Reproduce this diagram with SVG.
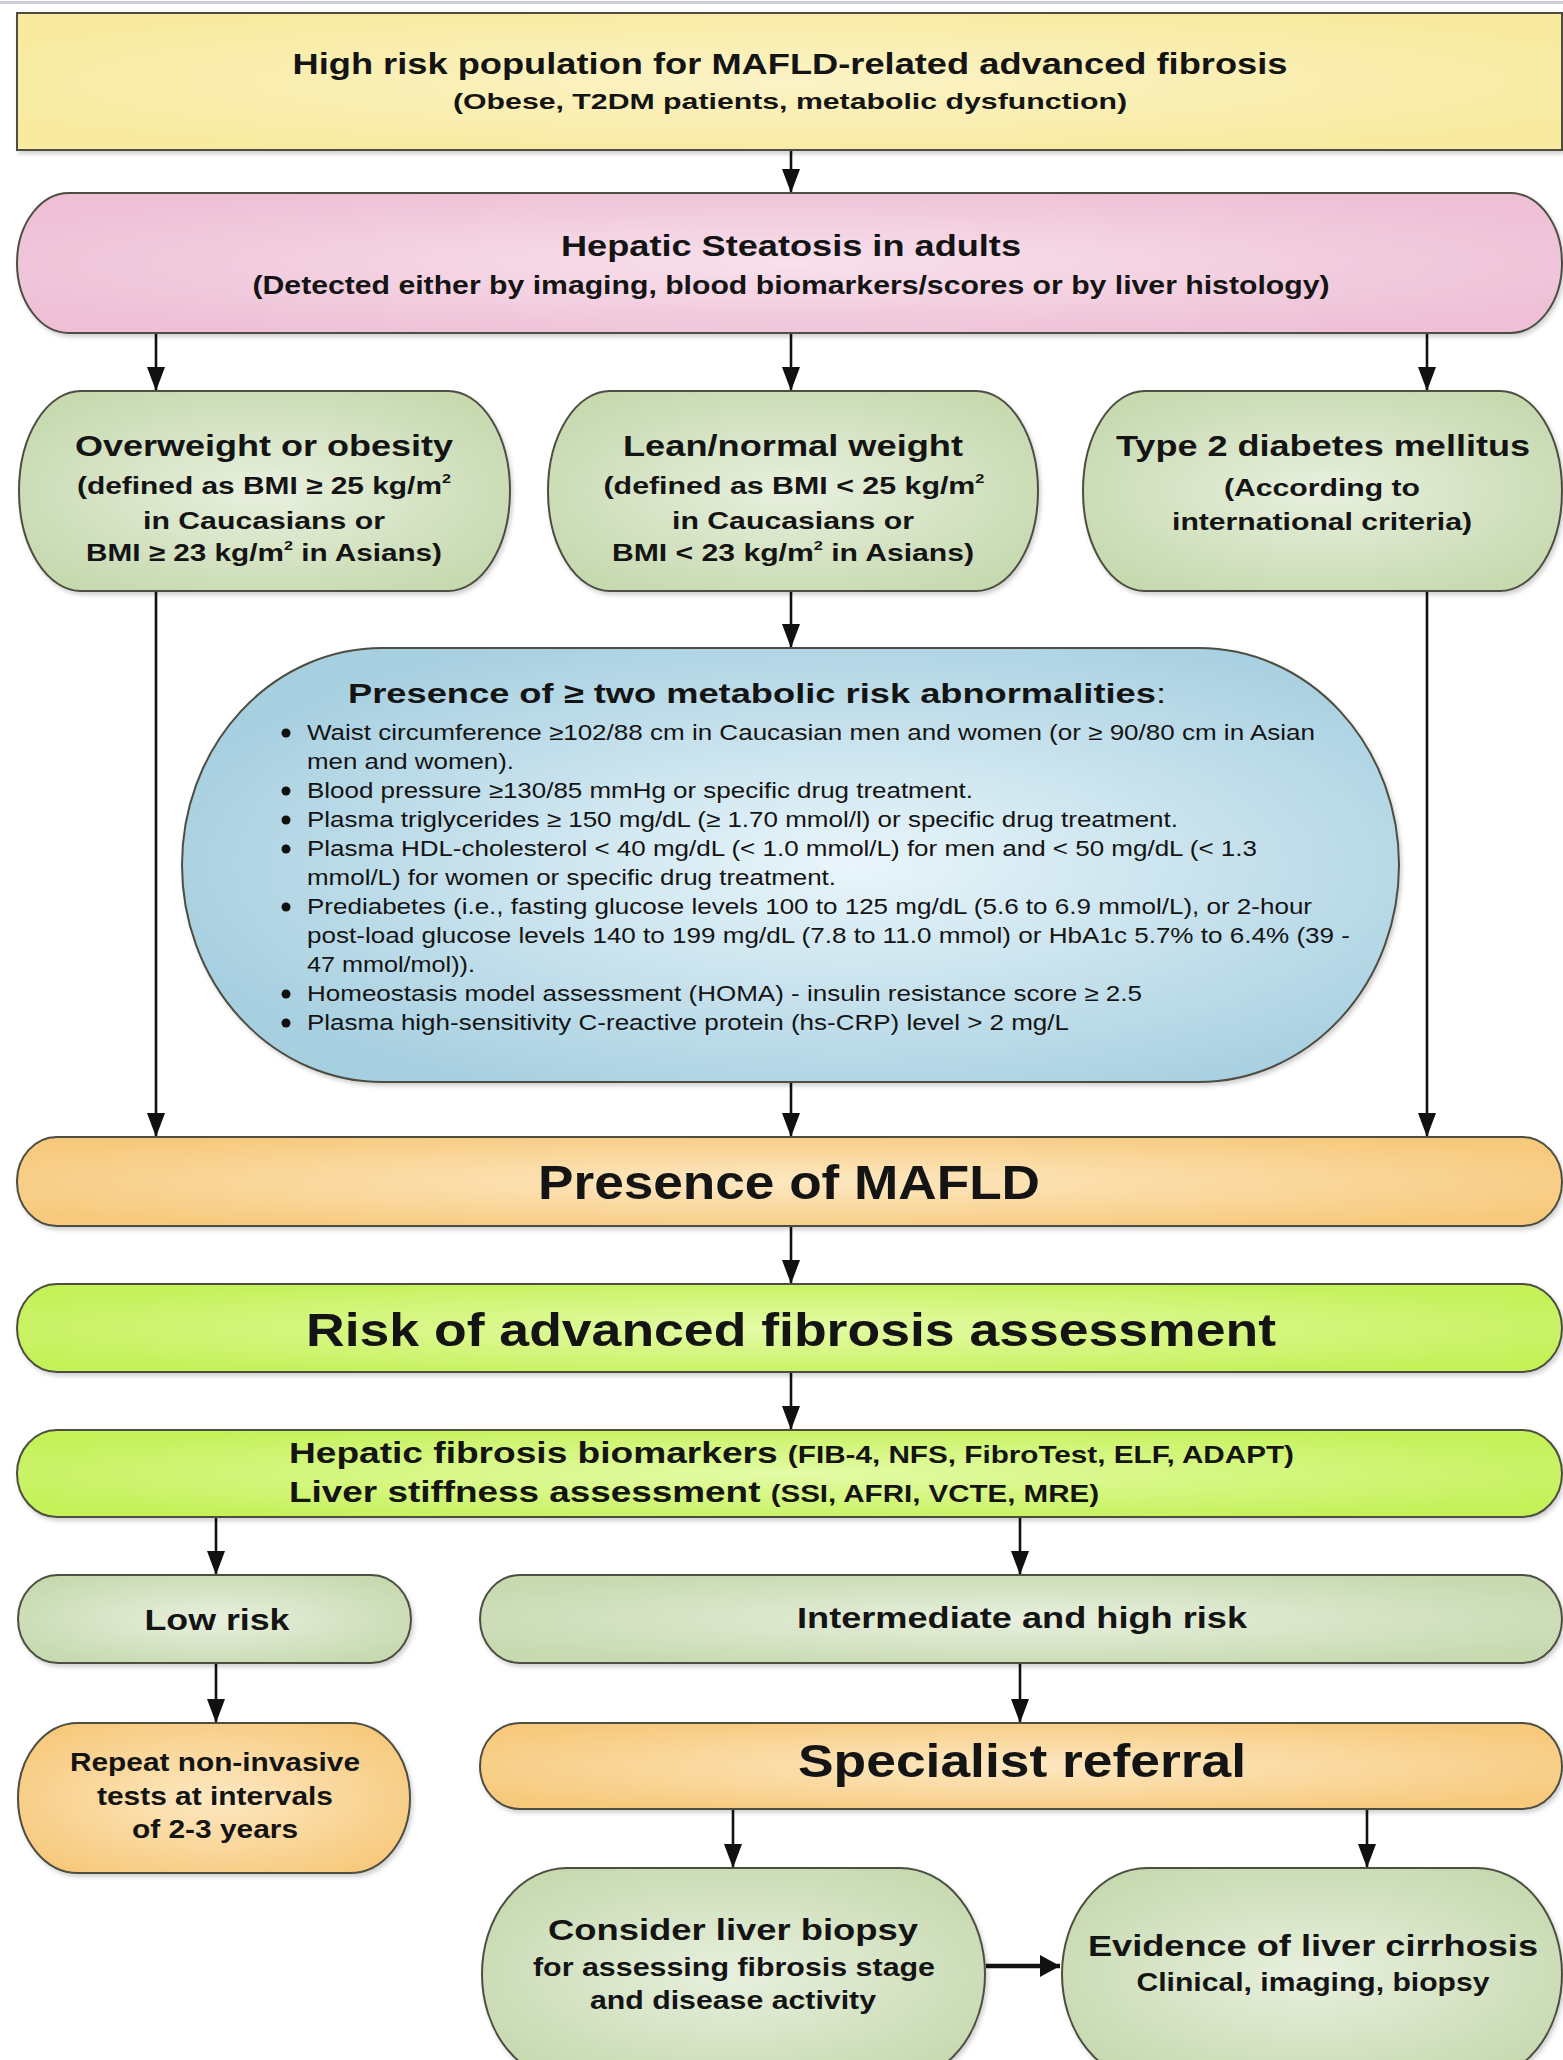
<svg xmlns="http://www.w3.org/2000/svg" width="1563" height="2060" viewBox="0 0 1563 2060">
<style>
text{font-family:"Liberation Sans",Arial,Helvetica,sans-serif;fill:#141414;}
.b{font-weight:bold;}
.node{stroke:#4d4d42;stroke-width:2;}
.conn line{stroke:#111;stroke-width:2.6;}
</style>
<defs>
<radialGradient id="gY" cx="50%" cy="50%" r="60%"><stop offset="0" stop-color="#fbf3c6"/><stop offset="1" stop-color="#f8ea9e"/></radialGradient>
<radialGradient id="gP" cx="50%" cy="50%" r="60%"><stop offset="0" stop-color="#f8e0ec"/><stop offset="1" stop-color="#eebfd5"/></radialGradient>
<radialGradient id="gG" cx="50%" cy="50%" r="60%"><stop offset="0" stop-color="#e8f0de"/><stop offset="1" stop-color="#c6d9af"/></radialGradient>
<radialGradient id="gB" cx="55%" cy="50%" r="60%"><stop offset="0" stop-color="#e9f5fa"/><stop offset="1" stop-color="#a6cfe0"/></radialGradient>
<radialGradient id="gO" cx="50%" cy="50%" r="60%"><stop offset="0" stop-color="#fde8c2"/><stop offset="1" stop-color="#f7c97c"/></radialGradient>
<radialGradient id="gL" cx="50%" cy="50%" r="60%"><stop offset="0" stop-color="#e4fba6"/><stop offset="1" stop-color="#c4f158"/></radialGradient>
<filter id="sh" x="-5%" y="-10%" width="110%" height="130%"><feDropShadow dx="2" dy="3" stdDeviation="2" flood-color="#000" flood-opacity="0.18"/></filter>
<marker id="ah" viewBox="0 0 24 18" refX="24" refY="9" markerWidth="24" markerHeight="18" markerUnits="userSpaceOnUse" orient="auto"><path d="M0,0 L24,9 L0,18 z" fill="#111"/></marker>
<marker id="ah2" viewBox="0 0 20 22" refX="20" refY="11" markerWidth="20" markerHeight="22" markerUnits="userSpaceOnUse" orient="auto"><path d="M0,0 L20,11 L0,22 z" fill="#111"/></marker>
</defs>
<rect x="0" y="0" width="1563" height="2060" fill="#fff"/>
<rect x="0" y="1" width="1563" height="3" fill="#cdd0dc"/>

<g id="connectors" class="conn">
<line x1="791" y1="150" x2="791" y2="193" marker-end="url(#ah)"/>
<line x1="156" y1="333" x2="156" y2="391" marker-end="url(#ah)"/>
<line x1="791" y1="333" x2="791" y2="391" marker-end="url(#ah)"/>
<line x1="1427" y1="333" x2="1427" y2="391" marker-end="url(#ah)"/>
<line x1="156" y1="591" x2="156" y2="1137" marker-end="url(#ah)"/>
<line x1="1427" y1="591" x2="1427" y2="1137" marker-end="url(#ah)"/>
<line x1="791" y1="591" x2="791" y2="648" marker-end="url(#ah)"/>
<line x1="791" y1="1082" x2="791" y2="1137" marker-end="url(#ah)"/>
<line x1="791" y1="1226" x2="791" y2="1284" marker-end="url(#ah)"/>
<line x1="791" y1="1372" x2="791" y2="1430" marker-end="url(#ah)"/>
<line x1="216" y1="1517" x2="216" y2="1575" marker-end="url(#ah)"/>
<line x1="1020" y1="1517" x2="1020" y2="1575" marker-end="url(#ah)"/>
<line x1="216" y1="1663" x2="216" y2="1723" marker-end="url(#ah)"/>
<line x1="1020" y1="1663" x2="1020" y2="1723" marker-end="url(#ah)"/>
<line x1="733" y1="1809" x2="733" y2="1868" marker-end="url(#ah)"/>
<line x1="1367" y1="1809" x2="1367" y2="1868" marker-end="url(#ah)"/>
<line x1="986" y1="1966" x2="1060" y2="1966" style="stroke-width:4.5" marker-end="url(#ah2)"/>
</g>

<g id="n-highrisk">
<rect class="node" x="17" y="13" width="1545" height="137" fill="url(#gY)" filter="url(#sh)"/>
<text class="b" x="790" y="74" font-size="29" text-anchor="middle" textLength="995" lengthAdjust="spacingAndGlyphs">High risk population for MAFLD-related advanced fibrosis</text>
<text class="b" x="790" y="109" font-size="22" text-anchor="middle" textLength="674" lengthAdjust="spacingAndGlyphs">(Obese, T2DM patients, metabolic dysfunction)</text>
</g>

<g id="n-steatosis">
<rect class="node" x="17" y="193" width="1545" height="140" rx="52" ry="70" fill="url(#gP)" filter="url(#sh)"/>
<text class="b" x="791" y="256" font-size="30" text-anchor="middle" textLength="460" lengthAdjust="spacingAndGlyphs">Hepatic Steatosis in adults</text>
<text class="b" x="791" y="294" font-size="25" text-anchor="middle" textLength="1077" lengthAdjust="spacingAndGlyphs">(Detected either by imaging, blood biomarkers/scores or by liver histology)</text>
</g>

<g id="n-overweight">
<rect class="node" x="19" y="391" width="491" height="200" rx="62" ry="100" fill="url(#gG)" filter="url(#sh)"/>
<text class="b" x="264" y="456" font-size="29" text-anchor="middle" textLength="378" lengthAdjust="spacingAndGlyphs">Overweight or obesity</text>
<text class="b" x="264" y="494" font-size="24" text-anchor="middle" textLength="374" lengthAdjust="spacingAndGlyphs">(defined as BMI ≥ 25 kg/m<tspan font-size="13" dy="-11">2</tspan></text>
<text class="b" x="264" y="529" font-size="24" text-anchor="middle" textLength="242" lengthAdjust="spacingAndGlyphs">in Caucasians or</text>
<text class="b" x="264" y="561" font-size="24" text-anchor="middle" textLength="356" lengthAdjust="spacingAndGlyphs">BMI ≥ 23 kg/m<tspan font-size="13" dy="-11">2</tspan><tspan dy="11"> in Asians)</tspan></text>
</g>

<g id="n-lean">
<rect class="node" x="548" y="391" width="490" height="200" rx="62" ry="100" fill="url(#gG)" filter="url(#sh)"/>
<text class="b" x="793" y="456" font-size="29" text-anchor="middle" textLength="340" lengthAdjust="spacingAndGlyphs">Lean/normal weight</text>
<text class="b" x="794" y="494" font-size="24" text-anchor="middle" textLength="381" lengthAdjust="spacingAndGlyphs">(defined as BMI &lt; 25 kg/m<tspan font-size="13" dy="-11">2</tspan></text>
<text class="b" x="793" y="529" font-size="24" text-anchor="middle" textLength="242" lengthAdjust="spacingAndGlyphs">in Caucasians or</text>
<text class="b" x="793" y="561" font-size="24" text-anchor="middle" textLength="362" lengthAdjust="spacingAndGlyphs">BMI &lt; 23 kg/m<tspan font-size="13" dy="-11">2</tspan><tspan dy="11"> in Asians)</tspan></text>
</g>

<g id="n-t2dm">
<rect class="node" x="1083" y="391" width="479" height="200" rx="62" ry="100" fill="url(#gG)" filter="url(#sh)"/>
<text class="b" x="1323" y="456" font-size="29" text-anchor="middle" textLength="414" lengthAdjust="spacingAndGlyphs">Type 2 diabetes mellitus</text>
<text class="b" x="1322" y="496" font-size="24" text-anchor="middle" textLength="196" lengthAdjust="spacingAndGlyphs">(According to</text>
<text class="b" x="1322" y="530" font-size="24" text-anchor="middle" textLength="300" lengthAdjust="spacingAndGlyphs">international criteria)</text>
</g>

<g id="n-metabolic">
<rect class="node" x="182" y="648" width="1217" height="434" rx="200" ry="217" fill="url(#gB)" filter="url(#sh)"/>
<text x="348" y="703" font-size="28" textLength="818" lengthAdjust="spacingAndGlyphs"><tspan class="b">Presence of ≥ two metabolic risk abnormalities</tspan>:</text>
<g fill="#111">
<circle cx="286" cy="733" r="4.5"/><circle cx="286" cy="791" r="4.5"/><circle cx="286" cy="820" r="4.5"/><circle cx="286" cy="849" r="4.5"/><circle cx="286" cy="907" r="4.5"/><circle cx="286" cy="994" r="4.5"/><circle cx="286" cy="1023" r="4.5"/>
</g>
<g font-size="22">
<text x="307" y="740" textLength="1008" lengthAdjust="spacingAndGlyphs">Waist circumference ≥102/88 cm in Caucasian men and women (or ≥ 90/80 cm in Asian</text>
<text x="307" y="769" textLength="207" lengthAdjust="spacingAndGlyphs">men and women).</text>
<text x="307" y="798" textLength="666" lengthAdjust="spacingAndGlyphs">Blood pressure ≥130/85 mmHg or specific drug treatment.</text>
<text x="307" y="827" textLength="871" lengthAdjust="spacingAndGlyphs">Plasma triglycerides ≥ 150 mg/dL (≥ 1.70 mmol/l) or specific drug treatment.</text>
<text x="307" y="856" textLength="950" lengthAdjust="spacingAndGlyphs">Plasma HDL-cholesterol &lt; 40 mg/dL (&lt; 1.0 mmol/L) for men and &lt; 50 mg/dL (&lt; 1.3</text>
<text x="307" y="885" textLength="529" lengthAdjust="spacingAndGlyphs">mmol/L) for women or specific drug treatment.</text>
<text x="307" y="914" textLength="1005" lengthAdjust="spacingAndGlyphs">Prediabetes (i.e., fasting glucose levels 100 to 125 mg/dL (5.6 to 6.9 mmol/L), or 2-hour</text>
<text x="307" y="943" textLength="1043" lengthAdjust="spacingAndGlyphs">post-load glucose levels 140 to 199 mg/dL (7.8 to 11.0 mmol) or HbA1c 5.7% to 6.4% (39 -</text>
<text x="307" y="972" textLength="168" lengthAdjust="spacingAndGlyphs">47 mmol/mol)).</text>
<text x="307" y="1001" textLength="835" lengthAdjust="spacingAndGlyphs">Homeostasis model assessment (HOMA) - insulin resistance score ≥ 2.5</text>
<text x="307" y="1030" textLength="762" lengthAdjust="spacingAndGlyphs">Plasma high-sensitivity C-reactive protein (hs-CRP) level &gt; 2 mg/L</text>
</g>
</g>

<g id="n-mafld">
<rect class="node" x="17" y="1137" width="1545" height="89" rx="40" ry="44" fill="url(#gO)" filter="url(#sh)"/>
<text class="b" x="789" y="1199" font-size="48" text-anchor="middle" textLength="502" lengthAdjust="spacingAndGlyphs">Presence of MAFLD</text>
</g>

<g id="n-risk">
<rect class="node" x="17" y="1284" width="1545" height="88" rx="40" ry="44" fill="url(#gL)" filter="url(#sh)"/>
<text class="b" x="791" y="1346" font-size="46" text-anchor="middle" textLength="970" lengthAdjust="spacingAndGlyphs">Risk of advanced fibrosis assessment</text>
</g>

<g id="n-biomarkers">
<rect class="node" x="17" y="1430" width="1545" height="87" rx="40" ry="44" fill="url(#gL)" filter="url(#sh)"/>
<text class="b" x="289" y="1463" font-size="30" textLength="1005" lengthAdjust="spacingAndGlyphs">Hepatic fibrosis biomarkers <tspan font-size="24">(FIB-4, NFS, FibroTest, ELF, ADAPT)</tspan></text>
<text class="b" x="289" y="1502" font-size="30" textLength="810" lengthAdjust="spacingAndGlyphs">Liver stiffness assessment <tspan font-size="24">(SSI, AFRI, VCTE, MRE)</tspan></text>
</g>

<g id="n-lowrisk">
<rect class="node" x="18" y="1575" width="393" height="88" rx="40" ry="44" fill="url(#gG)" filter="url(#sh)"/>
<text class="b" x="217" y="1630" font-size="30" text-anchor="middle" textLength="145" lengthAdjust="spacingAndGlyphs">Low risk</text>
</g>

<g id="n-intermediate">
<rect class="node" x="480" y="1575" width="1082" height="88" rx="40" ry="44" fill="url(#gG)" filter="url(#sh)"/>
<text class="b" x="1022" y="1628" font-size="30" text-anchor="middle" textLength="450" lengthAdjust="spacingAndGlyphs">Intermediate and high risk</text>
</g>

<g id="n-repeat">
<rect class="node" x="18" y="1723" width="392" height="150" rx="60" ry="75" fill="url(#gO)" filter="url(#sh)"/>
<text class="b" x="215" y="1771" font-size="25" text-anchor="middle" textLength="290" lengthAdjust="spacingAndGlyphs">Repeat non-invasive</text>
<text class="b" x="215" y="1805" font-size="25" text-anchor="middle" textLength="236" lengthAdjust="spacingAndGlyphs">tests at intervals</text>
<text class="b" x="215" y="1838" font-size="25" text-anchor="middle" textLength="166" lengthAdjust="spacingAndGlyphs">of 2-3 years</text>
</g>

<g id="n-specialist">
<rect class="node" x="480" y="1723" width="1082" height="86" rx="40" ry="43" fill="url(#gO)" filter="url(#sh)"/>
<text class="b" x="1022" y="1777" font-size="46" text-anchor="middle" textLength="448" lengthAdjust="spacingAndGlyphs">Specialist referral</text>
</g>

<g id="n-biopsy">
<rect class="node" x="482" y="1868" width="503" height="212" rx="85" ry="106" fill="url(#gG)" filter="url(#sh)"/>
<text class="b" x="733" y="1940" font-size="30" text-anchor="middle" textLength="370" lengthAdjust="spacingAndGlyphs">Consider liver biopsy</text>
<text class="b" x="734" y="1976" font-size="26" text-anchor="middle" textLength="402" lengthAdjust="spacingAndGlyphs">for assessing fibrosis stage</text>
<text class="b" x="733" y="2009" font-size="26" text-anchor="middle" textLength="286" lengthAdjust="spacingAndGlyphs">and disease activity</text>
</g>

<g id="n-cirrhosis">
<rect class="node" x="1062" y="1868" width="500" height="212" rx="85" ry="106" fill="url(#gG)" filter="url(#sh)"/>
<text class="b" x="1313" y="1956" font-size="30" text-anchor="middle" textLength="450" lengthAdjust="spacingAndGlyphs">Evidence of liver cirrhosis</text>
<text class="b" x="1313" y="1991" font-size="26" text-anchor="middle" textLength="353" lengthAdjust="spacingAndGlyphs">Clinical, imaging, biopsy</text>
</g>
</svg>
